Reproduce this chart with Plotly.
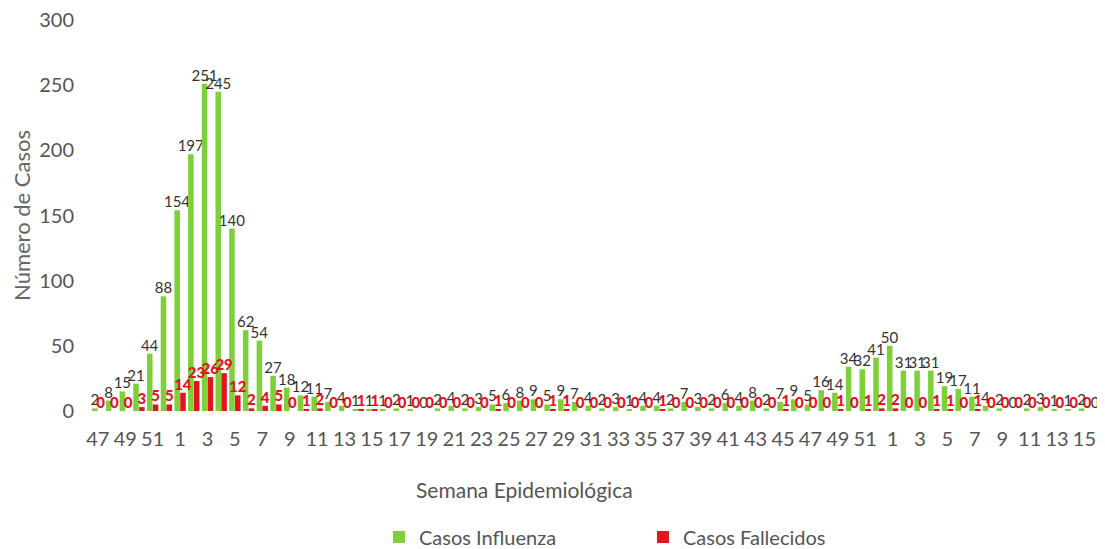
import plotly.graph_objects as go

weeks = [47, 48, 49, 50, 51, 52] + list(range(1, 53)) + list(range(1, 17))

influenza = [2, 8, 15, 21, 44, 88,
             154, 197, 251, 245, 140, 62, 54, 27, 18, 12, 11, 7, 4, 1, 1, 1, 2, 1, 0, 2,
             4, 2, 3, 5, 6, 8, 9, 5, 9, 7, 4, 2, 3, 1, 4, 4, 2, 7, 3, 2, 6, 4, 8, 2,
             7, 9, 5, 16, 14, 34, 32, 41,
             50, 31, 31, 31, 19, 17, 11, 4, 2, 0, 2, 3, 1, 1, 2, 0]

fallecidos = [0, 0, 0, 3, 5, 5,
              14, 23, 26, 29, 12, 2, 4, 5, 0, 1, 2, 0, 0, 1, 1, 0, 0, 0, 0, 0,
              0, 0, 0, 1, 0, 0, 0, 1, 1, 0, 0, 0, 0, 0, 0, 1, 0, 0, 0, 0, 0, 0, 0, 0,
              1, 0, 0, 0, 1, 0, 1, 2,
              2, 0, 0, 1, 1, 0, 1, 0, 0, 0, 0, 0, 0, 0, 0, 0]

x = list(range(len(weeks)))
tickvals = x[::2]
ticktext = [str(w) for w in weeks[::2]]

FONT = "Lato"

fig = go.Figure()
fig.add_trace(go.Bar(
    x=x, y=influenza, name="Casos Influenza",
    marker=dict(color="#7ED03A", line=dict(width=0)),
    text=[str(v) for v in influenza], textposition="outside",
    textfont=dict(family=FONT, size=15, color="#333333"),
    constraintext="none", cliponaxis=False,
))
fig.add_trace(go.Bar(
    x=x, y=fallecidos, name="Casos Fallecidos",
    marker=dict(color="#E0161B", line=dict(width=0)),
    text=[str(v) for v in fallecidos], textposition="outside",
    textfont=dict(family=FONT + " Black, " + FONT, size=15, color="#E5141A"),
    constraintext="none", cliponaxis=False,
))

fig.update_layout(
    width=1097, height=541,
    margin=dict(l=83, r=0, t=12, b=138, autoexpand=False),
    paper_bgcolor="white", plot_bgcolor="white",
    barmode="group", bargap=0.15, bargroupgap=0.05,
    font=dict(family=FONT, color="#555555"),
    showlegend=True,
    legend=dict(orientation="h", x=0.284, xanchor="left", y=-0.322, yanchor="middle",
                entrywidth=219, entrywidthmode="pixels",
                font=dict(family=FONT, size=20, color="#555555"),
                itemsizing="constant"),
    xaxis=dict(range=[-0.5, len(weeks) - 0.5], tickmode="array", tickvals=tickvals,
               ticktext=ticktext, showgrid=False, zeroline=False, showline=False,
               automargin=False, ticklabeloverflow="allow",
               ticks="outside", ticklen=10, tickcolor="rgba(0,0,0,0)",
               tickfont=dict(family=FONT, size=20, color="#555555")),
    yaxis=dict(range=[0, 300], tickvals=[0, 50, 100, 150, 200, 250, 300],
               showgrid=False, zeroline=False, showline=False, automargin=False,
               ticklabeloverflow="allow",
               ticks="outside", ticklen=12, tickcolor="rgba(0,0,0,0)",
               tickfont=dict(family=FONT, size=20, color="#555555"),
               title=dict(text="Número de Casos", standoff=2,
                          font=dict(family=FONT, size=22, color="#666666"))),
    annotations=[dict(text="Semana Epidemiológica", xref="paper", yref="paper",
                      x=0.428, y=-0.202, xanchor="center", yanchor="middle",
                      showarrow=False,
                      font=dict(family=FONT, size=21, color="#555555"))],
)

fig.write_html("out.html")
